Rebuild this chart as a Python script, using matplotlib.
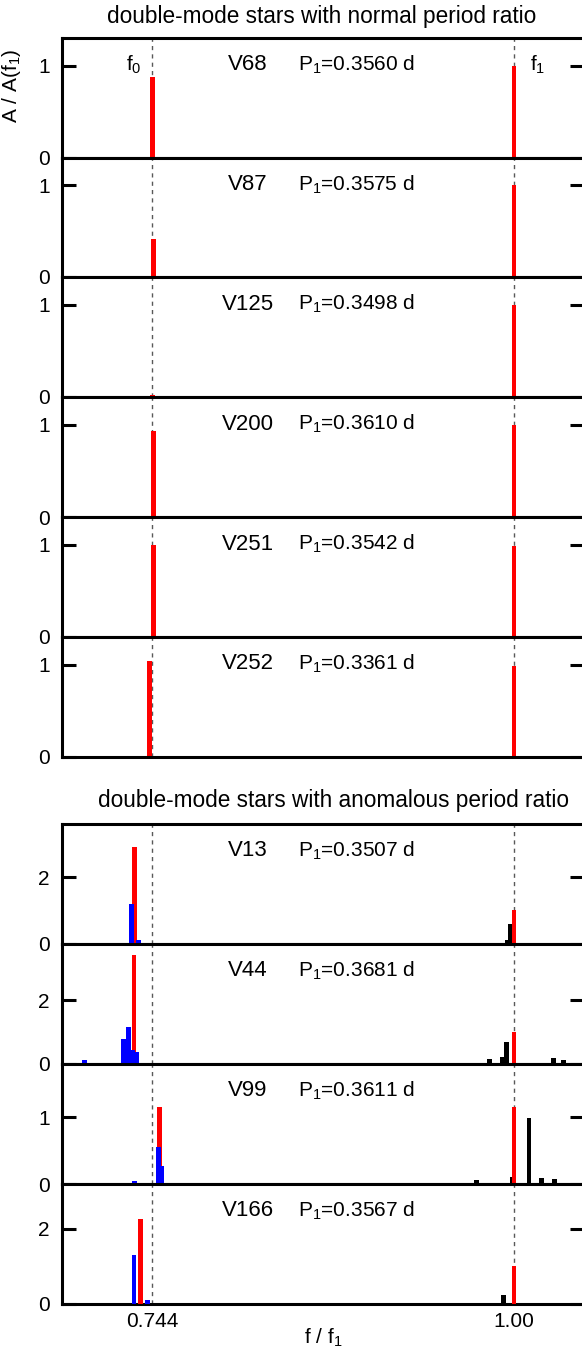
import matplotlib
matplotlib.use("Agg")
import matplotlib.pyplot as plt

plt.rcParams['font.family'] = ['Liberation Sans', 'DejaVu Sans']
plt.rcParams['mathtext.fontset'] = 'custom'
plt.rcParams['mathtext.rm'] = 'Liberation Sans'
plt.rcParams['mathtext.it'] = 'Liberation Sans'
plt.rcParams['mathtext.bf'] = 'Liberation Sans'

# ---------------- data ----------------
f0_ref = 0.744
f1_ref = 1.00

normal_stars = ["V68", "V87", "V125", "V200", "V251", "V252"]
normal_P1 = ["0.3560", "0.3575", "0.3498", "0.3610", "0.3542", "0.3361"]
normal_f0_ratio = [0.7440, 0.7450, 0.7440, 0.7445, 0.7445, 0.7420]
normal_f0_amp = [0.88, 0.41, 0.02, 0.93, 1.00, 1.04]
normal_f1_amp = [1.00, 1.00, 1.00, 1.00, 0.99, 0.99]

anom_stars = ["V13", "V44", "V99", "V166"]
anom_P1 = ["0.3507", "0.3681", "0.3611", "0.3567"]
anom_ymax = [3.6, 3.8, 1.8, 3.2]
anom_ytick = [2, 2, 1, 2]

red_f = [[0.7316, 1.0], [0.7309, 1.0], [0.7492, 1.0], [0.7357, 1.0]]
red_a = [[2.90, 1.00], [3.44, 1.00], [1.15, 1.15], [2.27, 1.00]]

blue_f = [[0.7291, 0.7340],
          [0.6958, 0.7234, 0.7270, 0.7300, 0.7329],
          [0.7315, 0.7485, 0.7504],
          [0.7309, 0.7408]]
blue_a = [[1.20, 0.12],
          [0.12, 0.78, 1.16, 0.44, 0.38],
          [0.05, 0.55, 0.27],
          [1.29, 0.10]]

black_f = [[0.9951, 0.9973],
           [0.9828, 0.9915, 0.9947, 1.0281, 1.0348],
           [0.9735, 0.9986, 1.0106, 1.0193, 1.0284],
           [0.9926]]
black_a = [[0.12, 0.58],
           [0.15, 0.20, 0.68, 0.18, 0.12],
           [0.06, 0.10, 0.98, 0.09, 0.08],
           [0.24]]

green_f = [[0.9206], [], [], []]
green_a = [[0.03], [], [], []]

xlim = (0.680, 1.0495)
normal_ymax = 1.3

# ---------------- layout ----------------
W, H = 582, 1351
fig = plt.figure(figsize=(W / 100, H / 100), dpi=100)

left_px, right_px = 62, 584
top_edges = [38, 157.5, 277, 397, 517, 637, 757]
bot_edges = [824, 943.5, 1063.5, 1184, 1303.5]

FS = 15
FS_NAME = 16
FS_TITLE = 16.3
SPW = 2.2
BW = 0.0034


def make_ax(y0, y1):
    ax = fig.add_axes([left_px / W, 1 - y1 / H, (right_px - left_px) / W, (y1 - y0) / H])
    for s in ax.spines.values():
        s.set_linewidth(SPW)
    ax.set_xlim(*xlim)
    ax.tick_params(axis='y', direction='in', length=10, width=SPW, left=True, right=True,
                   labelsize=FS, pad=9)
    ax.tick_params(axis='x', length=0, labelbottom=False)
    ax.axvline(f0_ref, color='0.35', lw=1.0, ls=(0, (3, 3)), zorder=0.5)
    ax.axvline(f1_ref, color='0.35', lw=1.0, ls=(0, (3, 3)), zorder=0.5)
    return ax


label_y = 1 - 27 / 120.0

for i, name in enumerate(normal_stars):
    ax = make_ax(top_edges[i], top_edges[i + 1])
    ax.set_ylim(0, normal_ymax)
    ax.set_yticks([0, 1])
    ax.bar([normal_f0_ratio[i], f1_ref], [normal_f0_amp[i], normal_f1_amp[i]],
           width=BW, color='#ff0000', zorder=2)
    ax.text((248 - left_px) / (right_px - left_px), label_y, name, transform=ax.transAxes,
            ha='center', va='center', fontsize=FS_NAME)
    ax.text((298 - left_px) / (right_px - left_px), label_y, r'P$_1$=' + normal_P1[i] + ' d',
            transform=ax.transAxes, ha='left', va='center', fontsize=FS)
    if i == 0:
        ax.text((142 - left_px) / (right_px - left_px), label_y, r'f$_0$', transform=ax.transAxes,
                ha='right', va='center', fontsize=FS)
        ax.text((530 - left_px) / (right_px - left_px), label_y, r'f$_1$', transform=ax.transAxes,
                ha='left', va='center', fontsize=FS)
        ax.set_ylabel(r'A / A(f$_1$)', fontsize=FS)
        ax.yaxis.set_label_coords((23 - left_px) / (right_px - left_px), 0.60)

for i, name in enumerate(anom_stars):
    ax = make_ax(bot_edges[i], bot_edges[i + 1])
    ax.set_ylim(0, anom_ymax[i])
    ax.set_yticks([0, anom_ytick[i]])
    if black_f[i]:
        ax.bar(black_f[i], black_a[i], width=BW, color='black', zorder=2)
    if green_f[i]:
        ax.bar(green_f[i], green_a[i], width=BW, color='#00a000', zorder=2)
    ax.bar(red_f[i], red_a[i], width=BW, color='#ff0000', zorder=3)
    ax.bar(blue_f[i], blue_a[i], width=BW, color='#0000ff', zorder=4)
    ax.text((248 - left_px) / (right_px - left_px), label_y, name, transform=ax.transAxes,
            ha='center', va='center', fontsize=FS_NAME)
    ax.text((298 - left_px) / (right_px - left_px), label_y, r'P$_1$=' + anom_P1[i] + ' d',
            transform=ax.transAxes, ha='left', va='center', fontsize=FS)
    if i == len(anom_stars) - 1:
        ax.set_xticks([f0_ref, f1_ref])
        ax.set_xticklabels(['0.744', '1.00'])
        ax.tick_params(axis='x', labelbottom=True, labelsize=FS, pad=6)
        ax.set_xlabel(r'f / f$_1$', fontsize=FS, labelpad=-3)

fig.text(322 / W, 1 - 16 / H, 'double-mode stars with normal period ratio',
         ha='center', va='center', fontsize=FS_TITLE)
fig.text(334 / W, 1 - 800 / H, 'double-mode stars with anomalous period ratio',
         ha='center', va='center', fontsize=FS_TITLE)

fig.savefig('out.png', dpi=100)
